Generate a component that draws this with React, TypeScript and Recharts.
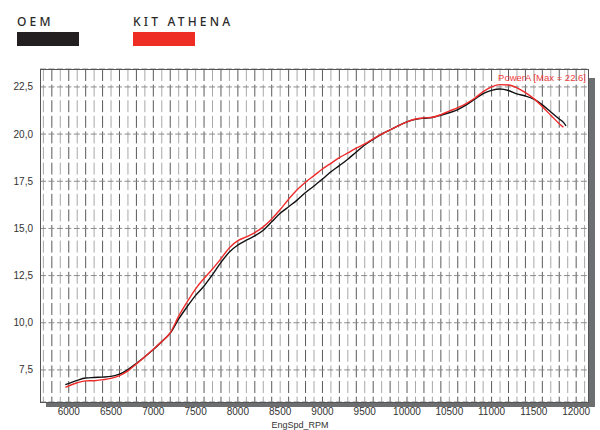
import React from 'react';
import { LineChart, Line, XAxis, YAxis, CartesianGrid } from 'recharts';

const rpm = [
  5960, 6100, 6200, 6300, 6400, 6500, 6600, 6700, 6800, 6900,
  7000, 7100, 7200, 7300, 7400, 7500, 7600, 7700, 7800, 7900,
  8000, 8100, 8200, 8300, 8400, 8500, 8600, 8700, 8800, 8900,
  9000, 9100, 9200, 9300, 9400, 9500, 9600, 9700, 9800, 9900,
  10000, 10100, 10200, 10300, 10400, 10500, 10600, 10700, 10800, 10900,
  11000, 11100, 11200, 11300, 11400, 11500, 11600, 11700, 11800, 11850, 11880
];

const oemPower = [
  6.72, 6.95, 7.07, 7.1, 7.12, 7.16, 7.28, 7.52, 7.85, 8.2,
  8.58, 9.0, 9.45, 10.2, 10.85, 11.45, 11.95, 12.55, 13.2, 13.75,
  14.12, 14.38, 14.6, 14.9, 15.35, 15.8, 16.15, 16.5, 16.9, 17.25,
  17.62, 18.0, 18.33, 18.67, 19.05, 19.42, 19.72, 20.0, 20.22, 20.45,
  20.65, 20.78, 20.84, 20.88, 21.0, 21.13, 21.3, 21.55, 21.85, 22.15,
  22.32, 22.39, 22.31, 22.13, 22.02, 21.85, 21.55, 21.17, 20.8, 20.62, 20.43
];

const kitPower = [
  6.58, 6.82, 6.92, 6.93, 6.98, 7.05, 7.2, 7.45, 7.82, 8.2,
  8.6, 9.0, 9.47, 10.35, 11.1, 11.8, 12.35, 12.85, 13.4, 13.98,
  14.35, 14.55, 14.78, 15.08, 15.5, 16.0, 16.55, 17.05, 17.45, 17.8,
  18.15, 18.45, 18.75, 19.0, 19.25, 19.48, 19.75, 20.0, 20.22, 20.45,
  20.65, 20.8, 20.86, 20.89, 21.03, 21.22, 21.4, 21.62, 21.9, 22.25,
  22.5, 22.62, 22.6, 22.45, 22.2, 21.88, 21.45, 21.0, 20.55, 20.36, null
];

const xTicks = [6000, 6500, 7000, 7500, 8000, 8500, 9000, 9500, 10000, 10500, 11000, 11500, 12000];
const yTicks = [7.5, 10, 12.5, 15, 17.5, 20, 22.5];

const X_DOMAIN: [number, number] = [5660, 12140];
const Y_DOMAIN: [number, number] = [5.8, 23.45];

const data = rpm.map((r, i) => ({ rpm: r, oem: oemPower[i], kit: kitPower[i] }));

const FONT = '"Liberation Sans", Arial, sans-serif';

// grid lines every 100 rpm, alternating dark / light
const gridLines = (parity: number) => (props: any) => {
  const { offset } = props;
  const out: number[] = [];
  const [d0, d1] = X_DOMAIN;
  for (let v = 5700; v <= 12100; v += 100) {
    if ((v / 100) % 2 !== parity) continue;
    out.push(offset.left + ((v - d0) / (d1 - d0)) * offset.width);
  }
  return out;
};

export default function App() {
  return (
    <div style={{ position: 'absolute', left: 0, top: 0, width: 600, height: 430, background: '#fff', overflow: 'hidden' }}>
      {/* legend */}
      <div style={{ position: 'absolute', left: 17, top: 13, fontFamily: '"Noto Sans", sans-serif', fontSize: 12, letterSpacing: 3.2, color: '#2a2a2a', fontWeight: 500 }}>OEM</div>
      <div style={{ position: 'absolute', left: 17, top: 32, width: 62, height: 14, background: '#231f20' }} />
      <div style={{ position: 'absolute', left: 133, top: 13, fontFamily: '"Noto Sans", sans-serif', fontSize: 12, letterSpacing: 3.2, color: '#2a2a2a', fontWeight: 500 }}>KIT ATHENA</div>
      <div style={{ position: 'absolute', left: 133, top: 32, width: 62, height: 14, background: '#ee2e24' }} />

      {/* shadow */}
      <div style={{ position: 'absolute', left: 46, top: 402, width: 549, height: 5, background: '#6d6e70' }} />
      <div style={{ position: 'absolute', left: 588, top: 78, width: 7, height: 329, background: '#6d6e70' }} />

      <div style={{ position: 'absolute', left: 0, top: 0 }}>
        <LineChart width={600} height={430} data={data} margin={{ top: 69, right: 12, bottom: 0, left: 0 }}>
          <CartesianGrid
            horizontal={false}
            stroke="#5a5a5a"
            strokeDasharray="12 3.6"
            verticalCoordinatesGenerator={gridLines(0)}
          />
          <CartesianGrid
            horizontal={false}
            stroke="#a8a8a8"
            strokeDasharray="12 3.6"
            verticalCoordinatesGenerator={gridLines(1)}
          />
          <CartesianGrid vertical={false} stroke="#8a8a8a" strokeDasharray="6 2.45" />
          <XAxis
            dataKey="rpm"
            type="number"
            domain={X_DOMAIN}
            ticks={xTicks}
            height={28}
            axisLine={false}
            tickLine={false}
            tickSize={4}
            tickMargin={2}
            tick={{ fill: '#333', fontSize: 10, fontFamily: FONT }}
          />
          <YAxis
            type="number"
            domain={Y_DOMAIN}
            ticks={yTicks}
            width={40}
            axisLine={false}
            tickLine={false}
            tickSize={4}
            tickMargin={3}
            tick={{ fill: '#333', fontSize: 10, fontFamily: FONT }}
            tickFormatter={(v: number) => v.toFixed(1).replace('.', ',')}
          />
          <Line type="monotone" dataKey="oem" stroke="#111" strokeWidth={1.4} dot={false} isAnimationActive={false} connectNulls />
          <Line type="monotone" dataKey="kit" stroke="#ee2a2a" strokeWidth={1.4} dot={false} isAnimationActive={false} connectNulls />
        </LineChart>
      </div>

      {/* plot frame */}
      <div style={{ position: 'absolute', left: 40, top: 69, width: 547, height: 332, border: '1px solid #555', pointerEvents: 'none' }} />

      <div style={{ position: 'absolute', right: 14, top: 72, fontFamily: FONT, fontSize: 9.5, color: '#f04040', whiteSpace: 'nowrap' }}>PowerA [Max = 22.6]</div>
      <div style={{ position: 'absolute', left: 0, width: 600, top: 420, lineHeight: '10px', textAlign: 'center', fontFamily: FONT, fontSize: 9, color: '#333' }}>EngSpd_RPM</div>
    </div>
  );
}
